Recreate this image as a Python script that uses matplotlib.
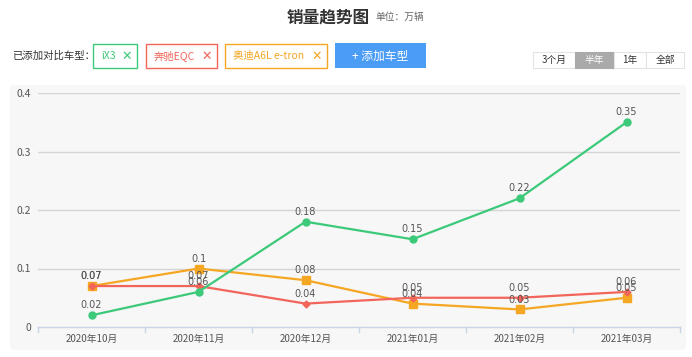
import matplotlib
matplotlib.use("Agg")
import matplotlib.pyplot as plt
from matplotlib.patches import FancyBboxPatch, Rectangle

plt.rcParams['font.family'] = ['Noto Sans CJK SC', 'DejaVu Sans']

# 数据
months = ['2020年10月', '2020年11月', '2020年12月', '2021年01月', '2021年02月', '2021年03月']
ix3 = [0.02, 0.06, 0.18, 0.15, 0.22, 0.35]
eqc = [0.07, 0.07, 0.04, 0.05, 0.05, 0.06]
a6l = [0.07, 0.1, 0.08, 0.04, 0.03, 0.05]
yticks = [0, 0.1, 0.2, 0.3, 0.4]

W, H = 692, 357
fig = plt.figure(figsize=(W / 100, H / 100), dpi=100)
fig.patch.set_facecolor('white')


def px(x, y):
    # pixel (from top-left) -> figure coords
    return x / W, 1 - y / H


# panel de fondo
x0, y0 = px(10, 350)
panel = FancyBboxPatch((x0, y0), (686 - 10) / W, (350 - 85) / H,
                       boxstyle="round,pad=0,rounding_size=0.008",
                       transform=fig.transFigure, facecolor='#f7f7f7',
                       edgecolor='none', zorder=-5)
fig.patches.append(panel)

# titulo
tx, ty = px(370, 18)
fig.text(tx, ty, '销量趋势图', ha='right', va='center', fontsize=12,
         fontweight='bold', color='#333333')
fig.text(tx + 5 / W, ty + 1 / H, '单位：万辆', ha='left', va='center',
         fontsize=7, color='#666666')

# fila de botones
bx, by = px(12, 56)
fig.text(bx, by, '已添加对比车型：', ha='left', va='center', fontsize=7.5, color='#333333')

tags = [('iX3', '#3cc97a', 93, 137), ('奔驰EQC', '#f2655a', 146, 217),
        ('奥迪A6L e-tron', '#f5a623', 225, 327)]
for name, col, l, r in tags:
    lx, ly = px(l, 68)
    fig.patches.append(Rectangle((lx, ly), (r - l) / W, 24 / H,
                                 transform=fig.transFigure, facecolor='white',
                                 edgecolor=col, linewidth=1, zorder=-4))
    cx, cy = px(r - 10, 56)
    fig.text(cx, cy, '✕', ha='center', va='center', fontsize=9, color=col,
             fontweight='bold', family=['DejaVu Sans'])
    nx, ny = px(l + (r - l - 14) / 2, 56)
    fig.text(nx, ny, name, ha='center', va='center', fontsize=7.5, color=col)

lx, ly = px(335, 68)
fig.patches.append(Rectangle((lx, ly), 91 / W, 25 / H, transform=fig.transFigure,
                             facecolor='#4b9cf5', edgecolor='none', zorder=-4))
cx, cy = px(380, 56)
fig.text(cx, cy, '+ 添加车型', ha='center', va='center', fontsize=8.5, color='white')

ranges = [('3个月', 533, 575, False), ('半年', 575, 614, True),
          ('1年', 614, 646, False), ('全部', 646, 684, False)]
for name, l, r, act in ranges:
    lx, ly = px(l, 68)
    fig.patches.append(Rectangle((lx, ly), (r - l) / W, 16 / H, transform=fig.transFigure,
                                 facecolor='#aaaaaa' if act else 'white',
                                 edgecolor='#aaaaaa' if act else '#e3e3e3',
                                 linewidth=0.8, zorder=-4))
    cx, cy = px((l + r) / 2, 60)
    fig.text(cx, cy, name, ha='center', va='center', fontsize=7,
             color='white' if act else '#333333')

# grafico
ax = fig.add_axes([38 / W, (H - 327) / H, (680 - 38) / W, (327 - 93) / H])
ax.set_facecolor('none')
ax.set_xlim(-0.5, 5.5)
ax.set_ylim(0, 0.4)
for s in ['top', 'right', 'left']:
    ax.spines[s].set_visible(False)
ax.spines['bottom'].set_color('#c9d5e6')
ax.spines['bottom'].set_linewidth(1)

for v in yticks[1:]:
    ax.axhline(v, color='#d4d4d4', linewidth=1, zorder=1)

ax.set_yticks(yticks)
ax.set_yticklabels(['0', '0.1', '0.2', '0.3', '0.4'])
ax.tick_params(axis='y', length=0, pad=5, labelsize=7.5, labelcolor='#555555')
ax.set_xticks(range(len(months)))
ax.set_xticklabels(months)
ax.tick_params(axis='x', length=0, pad=5, labelsize=7, labelcolor='#555555')
for b in [x - 0.5 for x in range(len(months) + 1)]:
    ax.plot([b, b], [0, -0.008], color='#c9d5e6', linewidth=1, clip_on=False)

xs = list(range(len(months)))
series = [(a6l, '#f5a623', 's', 5.5), (eqc, '#f2655a', 'D', 3.5), (ix3, '#3cc97a', 'o', 5)]
for vals, col, mk, ms in series:
    ax.plot(xs, vals, color=col, linewidth=1.6, marker=mk, markersize=ms, zorder=3)
for vals, col, mk, ms in series:
    for x, v in zip(xs, vals):
        ax.annotate(f'{v:g}', (x, v), xytext=(0, 3.5), textcoords='offset points',
                    ha='center', va='bottom', fontsize=7, color='#555555',
                    family=['DejaVu Sans'], zorder=4)

fig.savefig('out.png', dpi=100)
